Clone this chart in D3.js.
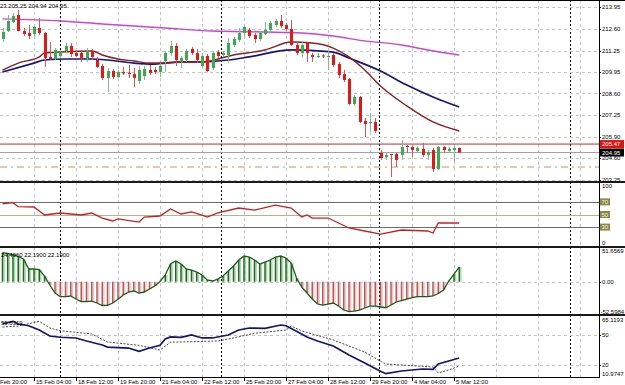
<!DOCTYPE html>
<html lang="en">
<head>
<meta charset="UTF-8">
<title>H4 price chart</title>
<script src="https://cdnjs.cloudflare.com/ajax/libs/d3/7.8.5/d3.min.js"></script>
<style>
  body { margin: 0; background: #fff; }
  svg { display: block; font-family: "Liberation Sans", Arial, sans-serif; }
</style>
</head>
<body>
<div id="chart"></div>
<script>
// ---- candles (H4 bars, oldest first) ----
const openP = [211.97,212.46,213.02,213.45,212.46,212.34,212.28,212.65,212.34,210.86,
  210.73,210.92,211.23,211.54,211.10,211.10,210.79,211.23,210.67,210.30,
  209.56,209.99,209.62,209.93,209.87,209.80,209.37,209.68,210.05,210.05,
  209.93,210.61,211.10,211.54,210.55,210.67,211.35,211.10,210.30,210.92,
  210.17,211.16,210.98,210.98,211.60,211.91,212.34,212.53,212.22,211.97,
  212.28,212.53,212.83,213.08,212.83,212.59,211.60,211.10,211.72,210.98,
  210.89,210.95,210.89,210.98,210.42,209.80,209.49,207.95,208.38,206.90,
  206.77,206.84,204.92,204.67,204.86,204.86,204.80,205.35,205.29,205.04,
  205.17,204.80,205.10,203.93,205.29,205.04,205.10,205.23];
const highP = [212.65,213.45,213.58,213.76,212.65,212.83,212.77,213.27,212.40,211.78,
  211.41,211.29,211.72,211.72,211.23,211.29,211.41,211.35,210.86,210.42,
  210.17,210.11,210.05,210.24,210.36,210.17,210.30,210.30,210.36,210.24,
  210.48,211.23,211.85,211.72,210.92,211.35,211.47,211.35,211.10,211.04,
  211.23,211.29,211.23,212.03,212.09,212.65,212.83,212.65,212.34,212.46,
  213.02,213.08,213.21,213.45,212.96,213.14,211.78,211.78,211.78,211.10,
  211.10,211.04,211.29,211.10,210.55,210.05,209.56,208.51,208.44,207.08,
  207.39,207.08,205.10,204.92,204.86,204.92,205.72,205.41,205.35,205.35,
  205.54,205.10,205.23,205.35,205.35,205.29,205.35,205.25];
const lowP = [211.78,212.40,212.96,212.46,212.15,211.97,212.09,212.22,210.24,210.67,
  210.67,210.79,211.10,210.86,210.86,210.55,210.55,210.67,210.17,209.43,
  208.69,209.49,209.56,209.74,209.56,209.00,209.19,209.43,209.74,209.80,
  209.62,209.93,210.92,210.30,210.17,210.55,210.98,210.48,210.17,209.93,
  210.05,210.79,210.86,210.48,211.47,211.78,212.09,212.03,211.72,211.85,
  212.22,212.40,212.71,212.65,212.46,211.54,210.98,210.86,210.55,210.55,
  210.79,210.79,210.05,210.24,209.56,209.31,207.89,207.83,206.77,205.91,
  206.22,206.16,204.49,204.49,203.43,204.05,204.49,204.92,204.67,204.92,
  204.67,204.49,203.74,203.87,204.92,204.92,204.36,204.94];
const closeP = [212.40,213.08,213.39,212.46,212.28,212.15,212.71,212.34,210.79,210.73,
  211.29,211.16,211.54,211.04,210.92,210.79,211.23,210.86,210.24,209.56,
  209.99,209.62,209.93,209.84,209.80,209.56,210.05,210.11,209.87,209.93,
  210.30,211.10,211.54,210.67,210.79,211.23,211.10,210.67,210.92,209.99,
  211.10,210.92,211.10,211.72,211.97,212.34,212.71,212.15,211.97,212.34,
  212.53,212.96,213.08,212.77,212.59,211.60,211.10,211.60,211.10,210.86,
  210.92,210.89,210.92,210.36,209.74,209.43,207.95,208.38,206.84,206.71,
  206.84,206.28,204.61,204.80,204.80,204.49,205.29,205.29,205.10,205.23,
  204.80,204.98,203.93,205.29,205.10,205.17,205.23,204.95];

// ---- moving averages (read at selected bars) ----
const maSlowBars = [0, 11, 19, 31, 40, 50, 57, 63, 69, 76, 81, 87];
const maSlow = [213.21, 213.08, 212.90, 212.65, 212.46, 212.40, 212.34, 212.15, 211.85, 211.60, 211.29, 210.98];
const maFastBars = [0, 3, 7, 8, 11, 17, 19, 22, 25, 28, 31, 34, 38, 44, 50, 55, 59, 63, 66, 69, 72, 77, 82, 87];
const maFast = [210.05, 210.48, 210.86, 211.10, 211.16, 211.23, 210.98, 210.73, 210.61, 210.48, 210.48, 210.55,
  210.55, 210.98, 211.29, 211.78, 211.72, 211.41, 210.86, 210.05, 209.06, 207.83, 206.84, 206.28];
const maMidBars = [0, 6, 8, 12, 17, 20, 25, 29, 31, 34, 38, 43, 47, 55, 60, 63, 66, 72, 77, 82, 87];
const maMid = [209.93, 210.48, 210.67, 210.73, 210.73, 210.67, 210.48, 210.42, 210.48, 210.55, 210.55,
  210.67, 210.86, 211.29, 211.23, 211.16, 210.79, 209.99, 209.12, 208.38, 207.76];

// ---- oscillator panel 1 (0..100) ----
const rsiBars = [0, 2, 3, 6, 8, 11, 15, 17, 19, 21, 22, 26, 27, 30, 32, 34, 36, 38, 39, 41,
  45, 48, 52, 55, 57, 58, 59, 62, 64, 66, 69, 72, 76, 81, 82, 83, 87];
const rsiVals = [66.7, 68.7, 62.4, 61.9, 49.2, 52.4, 49.2, 52.4, 44.4, 39.7, 42.9, 38.0, 46.0, 47.6, 58.7,
  50.8, 54.0, 49.0, 46.0, 52.4, 60.3, 57.0, 65.0, 60.3, 46.0, 49.2, 44.4, 44.4, 36.5, 28.6,
  23.8, 19.0, 25.4, 23.8, 20.6, 36.5, 36.5];
const rsiLevels = [70, 50, 30];

// ---- histogram panel ----
const histVals = [48.8, 47.8, 45.7, 42.4, 38.2, 21.4, 21.4, 20.5, 9.6, -5.5,
  -19.0, -25.2, -24.9, -24.0, -29.1, -33.6, -33.3, -32.5, -35.8, -40.0,
  -39.7, -35.8, -29.6, -22.4, -17.3, -15.6, -19.0, -17.3, -12.3, -7.2,
  0.5, 11.3, 29.8, 34.8, 29.8, 21.4, 19.7, 16.3, 11.3, 2.9,
  1.2, 4.5, 9.6, 18.0, 26.4, 36.5, 43.2, 41.5, 36.5, 29.8,
  33.1, 36.5, 41.5, 43.2, 39.9, 31.4, 6.2, -8.9, -19.0, -29.1,
  -37.5, -39.2, -37.5, -35.8, -40.9, -47.6, -50.4, -49.3, -47.6, -44.2,
  -40.9, -40.9, -42.5, -43.7, -39.2, -34.1, -31.6, -29.1, -26.6, -25.2,
  -25.2, -25.2, -24.0, -19.8, -14.0, 1.2, 12.9, 24.7];

// ---- bottom oscillator panel ----
const stochBars = [0, 2, 3, 5, 7, 9, 11, 14, 16, 19, 20, 24, 26, 28, 30, 31, 32, 34, 36, 38,
  40, 43, 45, 47, 50, 53, 54, 56, 58, 60, 63, 66, 69, 72, 73, 76, 80, 82, 83, 85, 87];
const stochMain = [61.4, 63.8, 61.1, 59.4, 55.1, 49.1, 47.8, 47.1, 44.1, 40.1, 38.0, 37.0, 33.7, 37.0,
  39.7, 46.1, 48.1, 47.8, 50.1, 47.1, 47.1, 50.1, 55.1, 57.1, 56.8, 60.1, 59.4, 53.8, 48.1,
  44.1, 39.1, 30.0, 22.0, 13.7, 11.3, 14.0, 16.0, 15.7, 21.0, 24.0, 27.0];
const signalBars = [0, 3, 7, 9, 11, 17, 20, 26, 30, 32, 41, 44, 48, 54, 55, 57, 63, 69, 72, 73, 82, 83, 85, 87];
const signalVals = [58.1, 59.1, 63.8, 57.1, 54.4, 51.1, 43.1, 39.7, 35.0, 42.8, 44.1, 47.1, 51.8, 55.1,
  59.1, 54.1, 45.1, 33.0, 23.7, 21.0, 18.0, 12.0, 15.0, 19.0];
const stochLevels = [50, 20];

// ---- axes / labels ----
const priceTicks = [213.95, 212.60, 211.25, 209.95, 208.60, 207.25, 205.90, 204.60, 203.25];
const timeLabels = ["Feb 20:00", "15 Feb 04:00", "18 Feb 12:00", "19 Feb 20:00", "21 Feb 04:00",
  "22 Feb 12:00", "25 Feb 20:00", "27 Feb 04:00", "28 Feb 12:00", "29 Feb 20:00", "4 Mar 04:00", "5 Mar 12:00"];
const timeLabelBars = [-2, 6, 14, 22, 30, 38, 46, 54, 62, 70, 78, 86];
const extraGridBars = [94, 102, 110];
const separatorBars = [11, 41.6, 71.7, 108];
const lineLevel = 205.47, bidLevel = 204.95, dashLevel = 204.05;

const W = 625, H = 385, R = 599;
const svg = d3.select("#chart").append("svg").attr("width", W).attr("height", H);

const x = d3.scaleLinear().domain([0, 87]).range([2.5, 459.25]);
const yMain = d3.scaleLinear().domain([203.124, 214.38]).range([182, 0]);
const yRsi = d3.scaleLinear().domain([0, 100]).range([246, 183]);
const yHist = d3.scaleLinear().domain([-52.5984, 51.6569]).range([313, 251]);
const ySto = d3.scaleLinear().domain([10.9747, 65.1193]).range([374, 320]);

const panels = [[0, 182], [182, 247], [247, 315], [315, 377]];
panels.forEach((p, k) => {
  svg.append("clipPath").attr("id", "clip" + k)
    .append("rect").attr("x", 0).attr("y", p[0]).attr("width", R).attr("height", p[1] - p[0]);
});
const layer = k => svg.append("g").attr("clip-path", `url(#clip${k})`);
const gl = panels.map((p, k) => layer(k));

// vertical grid + period separators
const gridBars = timeLabelBars.concat(extraGridBars);
panels.forEach((p, k) => {
  gl[k].selectAll(".vg").data(gridBars).join("line")
    .attr("x1", d => x(d) + 0.5).attr("x2", d => x(d) + 0.5)
    .attr("y1", p[0]).attr("y2", p[1])
    .attr("stroke", "#c4c4c4").attr("stroke-dasharray", "3,3");
  gl[k].selectAll(".sep").data(separatorBars).join("line")
    .attr("x1", d => Math.round(x(d)) + 0.5).attr("x2", d => Math.round(x(d)) + 0.5)
    .attr("y1", p[0]).attr("y2", p[1])
    .attr("stroke", "#000").attr("stroke-dasharray", "2,2");
});

// ---------- main panel ----------
const g0 = gl[0];
g0.selectAll(".hg").data(priceTicks).join("line")
  .attr("x1", 0).attr("x2", R)
  .attr("y1", d => Math.round(yMain(d)) + 0.5).attr("y2", d => Math.round(yMain(d)) + 0.5)
  .attr("stroke", "#c4c4c4").attr("stroke-dasharray", "3,3");

g0.append("line").attr("x1", 0).attr("x2", R)
  .attr("y1", yMain(dashLevel)).attr("y2", yMain(dashLevel))
  .attr("stroke", "#d09070").attr("stroke-width", 1).attr("stroke-dasharray", "7,4,2,4");
g0.append("line").attr("x1", 0).attr("x2", R)
  .attr("y1", yMain(lineLevel)).attr("y2", yMain(lineLevel))
  .attr("stroke", "#b03030").attr("stroke-width", 1);
g0.append("line").attr("x1", 0).attr("x2", R)
  .attr("y1", yMain(bidLevel)).attr("y2", yMain(bidLevel))
  .attr("stroke", "#a0a0a0").attr("stroke-width", 1);

const maLine = (bars, vals, color, w) => {
  g0.append("path").datum(bars.map((b, i) => [b, vals[i]]))
    .attr("fill", "none").attr("stroke", color).attr("stroke-width", w)
    .attr("d", d3.line().x(d => x(d[0])).y(d => yMain(d[1])).curve(d3.curveMonotoneX));
};
maLine(maSlowBars, maSlow, "#cc44cc", 1.4);
maLine(maMidBars, maMid, "#16167a", 1.7);
maLine(maFastBars, maFast, "#8a2020", 1.4);

const idx = d3.range(openP.length);
const bull = i => closeP[i] >= openP[i];
g0.selectAll(".wick").data(idx).join("line")
  .attr("x1", i => Math.round(x(i)) + 0.5).attr("x2", i => Math.round(x(i)) + 0.5)
  .attr("y1", i => yMain(highP[i])).attr("y2", i => yMain(lowP[i]))
  .attr("stroke", i => bull(i) ? "#86b890" : "#d85858").attr("stroke-width", 1);
g0.selectAll(".body").data(idx).join("rect")
  .attr("x", i => Math.round(x(i)) - 1)
  .attr("y", i => yMain(Math.max(openP[i], closeP[i])))
  .attr("width", 3)
  .attr("height", i => Math.max(1, Math.abs(yMain(openP[i]) - yMain(closeP[i]))))
  .attr("fill", i => bull(i) ? "#3ea852" : "#e01818");

svg.append("text").attr("x", 0).attr("y", 8).attr("font-size", 6).attr("fill", "#000")
  .text("23 205.25 204.94 204.95");

// ---------- panel 2 ----------
const g1 = gl[1];
g1.selectAll(".lvl").data(rsiLevels).join("line")
  .attr("x1", 0).attr("x2", R)
  .attr("y1", d => Math.round(yRsi(d)) + 0.5).attr("y2", d => Math.round(yRsi(d)) + 0.5)
  .attr("stroke", d => d === 50 ? "#b4b48c" : "#6a6a6a");
g1.append("path").datum(rsiBars.map((b, i) => [b, rsiVals[i]]))
  .attr("fill", "none").attr("stroke", "#c82020").attr("stroke-width", 1.3)
  .attr("d", d3.line().x(d => x(d[0])).y(d => yRsi(d[1])));

// ---------- panel 3 ----------
const g2 = gl[2];
g2.append("line").attr("x1", 0).attr("x2", R)
  .attr("y1", Math.round(yHist(0)) + 0.5).attr("y2", Math.round(yHist(0)) + 0.5)
  .attr("stroke", "#c4c4c4").attr("stroke-dasharray", "3,3");
g2.selectAll(".hl").data(idx).join("line")
  .attr("x1", i => x(i) + 1.6).attr("x2", i => x(i) + 1.6)
  .attr("y1", yHist(0)).attr("y2", i => yHist(histVals[i]))
  .attr("stroke", i => histVals[i] >= 0 ? "#a6d8a6" : "#f2c2c2").attr("stroke-width", 1.4);
g2.selectAll(".hd").data(idx).join("line")
  .attr("x1", i => x(i)).attr("x2", i => x(i))
  .attr("y1", yHist(0)).attr("y2", i => yHist(histVals[i]))
  .attr("stroke", i => histVals[i] >= 0 ? "#1c6a1c" : "#b45858").attr("stroke-width", 1.5);
g2.append("path").datum(idx)
  .attr("fill", "none").attr("stroke", "#1a5a1a").attr("stroke-width", 1.3)
  .attr("d", d3.line().x(i => x(i)).y(i => yHist(histVals[i])));
svg.append("text").attr("x", 1).attr("y", 257).attr("font-size", 6).attr("fill", "#000")
  .text("24.4960 22.1900 22.1900");

// ---------- panel 4 ----------
const g3 = gl[3];
g3.selectAll(".lvl").data(stochLevels).join("line")
  .attr("x1", 0).attr("x2", R)
  .attr("y1", d => Math.round(ySto(d)) + 0.5).attr("y2", d => Math.round(ySto(d)) + 0.5)
  .attr("stroke", "#c4c4c4").attr("stroke-dasharray", "3,3");
g3.append("path").datum(signalBars.map((b, i) => [b, signalVals[i]]))
  .attr("fill", "none").attr("stroke", "#333").attr("stroke-width", 0.9).attr("stroke-dasharray", "2,1.5")
  .attr("d", d3.line().x(d => x(d[0])).y(d => ySto(d[1])));
g3.append("path").datum(stochBars.map((b, i) => [b, stochMain[i]]))
  .attr("fill", "none").attr("stroke", "#14146e").attr("stroke-width", 1.7)
  .attr("d", d3.line().x(d => x(d[0])).y(d => ySto(d[1])));
svg.append("text").attr("x", 1).attr("y", 325).attr("font-size", 6).attr("fill", "#000")
  .text("59.6319");

// ---------- frame ----------
svg.append("line").attr("x1", 0).attr("x2", W).attr("y1", 0.5).attr("y2", 0.5).attr("stroke", "#000");
[182, 247, 315].forEach(y => {
  svg.append("line").attr("x1", 0).attr("x2", W).attr("y1", y).attr("y2", y)
    .attr("stroke", "#1a1a1a").attr("stroke-width", 2);
});
svg.append("line").attr("x1", 0).attr("x2", R + 0.5).attr("y1", 377.5).attr("y2", 377.5).attr("stroke", "#000");
svg.append("line").attr("x1", R + 0.5).attr("x2", R + 0.5).attr("y1", 0).attr("y2", 378).attr("stroke", "#000");

// right axis labels
const axisText = (y, t, dx) => svg.append("text").attr("x", R + (dx || 3)).attr("y", y).attr("dy", "0.35em")
  .attr("font-size", 6).attr("fill", "#000").text(t);
const tick = y => svg.append("line").attr("x1", R).attr("x2", R + 2)
  .attr("y1", Math.round(y) + 0.5).attr("y2", Math.round(y) + 0.5).attr("stroke", "#000");

priceTicks.forEach(v => { tick(yMain(v)); axisText(yMain(v), v.toFixed(2)); });

const tag = (v, fill) => {
  const y = yMain(v);
  svg.append("rect").attr("x", R + 1).attr("y", y - 4).attr("width", 24).attr("height", 8).attr("fill", fill);
  svg.append("text").attr("x", R + 3).attr("y", y).attr("dy", "0.35em")
    .attr("font-size", 6).attr("fill", "#fff").text(v.toFixed(2));
};
tag(lineLevel, "#e01010");
tag(bidLevel, "#000");

axisText(186, "100");
axisText(242.5, "0");
rsiLevels.forEach(v => {
  const y = yRsi(v);
  svg.append("rect").attr("x", R + 1).attr("y", y - 3.5).attr("width", 10).attr("height", 7).attr("fill", "#8a8a4a");
  svg.append("text").attr("x", R + 2.5).attr("y", y).attr("dy", "0.35em")
    .attr("font-size", 6).attr("fill", "#f4f4d8").text(v);
});

axisText(yHist(51.6569), "51.6569");
tick(yHist(0)); axisText(yHist(0), "0.00");
axisText(311.5, "-52.5984", 1.5);

axisText(ySto(65.1193), "65.1193");
stochLevels.forEach(v => { tick(ySto(v)); axisText(ySto(v), v); });
axisText(373.5, "10.9747");

// time axis (first label only partly in view, as in the source)
svg.selectAll(".tt").data(timeLabelBars).join("line")
  .attr("x1", d => Math.round(x(d)) + 0.5).attr("x2", d => Math.round(x(d)) + 0.5)
  .attr("y1", 377).attr("y2", 381).attr("stroke", "#000");
svg.selectAll(".tl").data(timeLabels).join("text")
  .attr("x", (d, i) => i === 0 ? 0 : x(timeLabelBars[i]) + 2).attr("y", 384)
  .attr("font-size", 6).attr("fill", "#000").text(d => d);
</script>
</body>
</html>
